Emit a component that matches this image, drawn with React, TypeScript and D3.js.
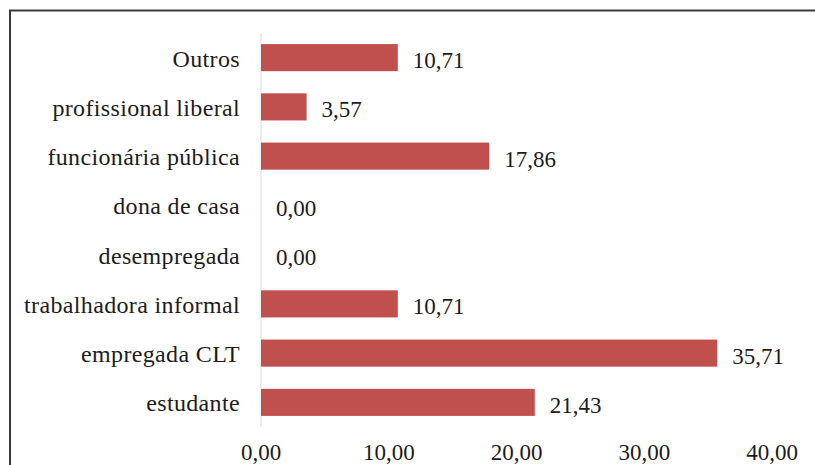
import React from "react";
import * as d3 from "d3";

const categories = [
  "Outros",
  "profissional liberal",
  "funcionária pública",
  "dona de casa",
  "desempregada",
  "trabalhadora informal",
  "empregada CLT",
  "estudante",
];
const values = [10.71, 3.57, 17.86, 0.0, 0.0, 10.71, 35.71, 21.43];
const ticks = [0, 10, 20, 30, 40];

const fmt = (v: number) => v.toFixed(2).replace(".", ",");

export default function App() {
  const W = 815;
  const H = 465;
  const x = d3.scaleLinear().domain([0, 40]).range([261, 772]);
  const y = d3.scaleBand<string>().domain(categories).range([33, 427]).paddingInner(0.45).paddingOuter(0.225);
  const font = "Liberation Serif";
  return (
    <svg width={W} height={H} style={{ position: "absolute", left: 0, top: 0 }}>
      <rect x={0} y={0} width={W} height={H} fill="#fff" />
      <rect x={10} y={10.5} width={W + 10} height={H + 10} fill="none" stroke="#3a3a3a" strokeWidth={2} />
      <line x1={x(0)} x2={x(0)} y1={33} y2={427} stroke="#d9d9d9" strokeWidth={1} />
      {categories.map((c, i) => (
        <g key={c}>
          <rect
            x={x(0)}
            y={y(c)!}
            width={x(values[i]) - x(0)}
            height={y.bandwidth()}
            fill="#C0504D"
          />
          <text
            x={240}
            y={y(c)! + y.bandwidth() / 2 + 1}
            dy="0.33em"
            textAnchor="end"
            fontFamily={font}
            fontSize={24}
            letterSpacing={0.35}
            fill="#1c1c1c"
          >
            {c}
          </text>
          <text
            x={x(values[i]) + 15}
            y={y(c)! + y.bandwidth() / 2 + 3}
            dy="0.33em"
            textAnchor="start"
            fontFamily={font}
            fontSize={23}
            fill="#1c1c1c"
          >
            {fmt(values[i])}
          </text>
        </g>
      ))}
      {ticks.map((t) => (
        <text
          key={t}
          x={x(t)}
          y={460}
          textAnchor="middle"
          fontFamily={font}
          fontSize={23}
          fill="#1c1c1c"
        >
          {fmt(t)}
        </text>
      ))}
    </svg>
  );
}
